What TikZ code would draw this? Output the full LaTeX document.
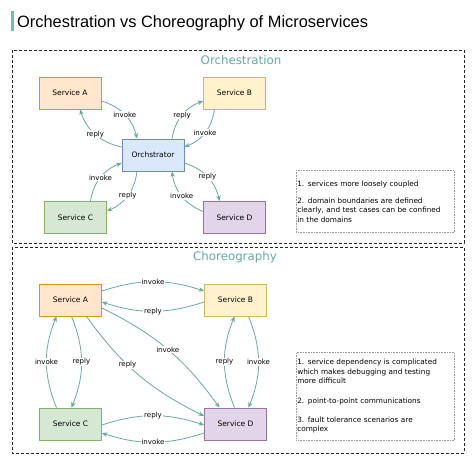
\documentclass[tikz,border=0pt]{standalone}
\usepackage{fontspec}
\setmainfont{DejaVu Sans}
\newfontfamily\titlefont{Liberation Sans}
\usetikzlibrary{arrows.meta, positioning}
\definecolor{msTeal}{HTML}{67AB9F}
\definecolor{msMint}{HTML}{6CC2A2}
\definecolor{msOrangeF}{HTML}{FFE6CC}
\definecolor{msOrangeD}{HTML}{D79B00}
\definecolor{msYellowF}{HTML}{FFF2CC}
\definecolor{msYellowD}{HTML}{D6B656}
\definecolor{msBlueF}{HTML}{DAE8FC}
\definecolor{msBlueD}{HTML}{6C8EBF}
\definecolor{msGreenF}{HTML}{D5E8D4}
\definecolor{msGreenD}{HTML}{82B366}
\definecolor{msPurpleF}{HTML}{E1D5E7}
\definecolor{msPurpleD}{HTML}{9673A6}
\definecolor{msGrey}{HTML}{9A9A9A}
\begin{document}
\begin{tikzpicture}[x=1pt, y=1pt,
    svc/.style={draw, line width=0.8pt, minimum width=62pt, minimum height=32pt,
      inner sep=0pt, font=\fontsize{7.5}{9}\selectfont},
    flow/.style={draw=msTeal, line width=0.8pt, -{Stealth[length=5.5pt,width=4.5pt]}},
    lbl/.style={fill=white, inner sep=0.8pt, font=\fontsize{7}{8}\selectfont},
    area/.style={draw=black!85, line width=0.9pt, dash pattern=on 3pt off 2pt},
    areatitle/.style={msTeal, font=\fontsize{11.8}{13}\selectfont},
    note/.style={draw=msGrey, densely dotted, line width=0.6pt, anchor=north west,
      text width=156pt, minimum height=62pt, inner sep=1pt, align=left,
      font=\fontsize{7.3}{9.5}\selectfont}]
  \fill[white] (0,0) rectangle (474,-466);
  \useasboundingbox (0,0) rectangle (474,-466);
  \fill[msMint] (11,-11) rectangle (13.5,-31);
  \node[anchor=base west, inner sep=0pt, font=\titlefont\fontsize{16.4}{18}\selectfont]
    (title) at (17,-27) {Orchestration vs Choreography of Microservices};
  \draw[area] (12,-50) rectangle (464,-243);
  \draw[area] (12,-247) rectangle (464,-453);
  \node[areatitle] (orchTitle) at (241,-60) {Orchestration};
  \node[areatitle] (choTitle) at (235,-257) {Choreography};
  % orchestration
  \node[svc, fill=msOrangeF, draw=msOrangeD] (oA) at (70,-93) {Service A};
  \node[svc, fill=msYellowF, draw=msYellowD] (oB) at (234.5,-93) {Service B};
  \node[svc, fill=msBlueF, draw=msBlueD] (orch) at (153,-155) {Orchstrator};
  \node[svc, fill=msGreenF, draw=msGreenD] (oC) at (75.5,-217.5) {Service C};
  \node[svc, fill=msPurpleF, draw=msPurpleD] (oD) at (234.5,-217.5) {Service D};
  \draw[flow] ([yshift=-8pt]oA.east) to[bend left=30] node[lbl] {invoke} ([xshift=-16pt]orch.north);
  \draw[flow] ([yshift=8pt]orch.west) to[bend left=30] node[lbl] {reply} ([xshift=10pt]oA.south);
  \draw[flow] ([xshift=19pt]orch.north) to[bend left=30] node[lbl] {reply} ([yshift=-8pt]oB.west);
  \draw[flow] ([xshift=-20pt]oB.south) to[bend left=30] node[lbl] {invoke} ([yshift=8pt]orch.east);
  \draw[flow] ([xshift=15pt]oC.north) to[bend left=30] node[lbl] {invoke} ([yshift=-8pt]orch.west);
  \draw[flow] ([xshift=-16pt]orch.south) to[bend left=30] node[lbl] {reply} ([yshift=6.5pt]oC.east);
  \draw[flow] ([yshift=-8pt]orch.east) to[bend left=30] node[lbl] {reply} ([xshift=-15pt]oD.north);
  \draw[flow] ([yshift=6pt]oD.west) to[bend left=30] node[lbl] {invoke} ([xshift=19pt]orch.south);
  \node[note] (note1) at (296,-170) {1. services more loosely coupled\\[7.5pt]
    2. domain boundaries are defined\\ clearly, and test cases can be confined\\ in the domains};
  % choreography
  \node[svc, fill=msOrangeF, draw=msOrangeD] (cA) at (70.5,-300) {Service A};
  \node[svc, fill=msYellowF, draw=msYellowD] (cB) at (235.5,-300) {Service B};
  \node[svc, fill=msGreenF, draw=msGreenD] (cC) at (70.5,-424) {Service C};
  \node[svc, fill=msPurpleF, draw=msPurpleD] (cD) at (235.5,-424) {Service D};
  \draw[flow] ([yshift=9pt]cA.east) to[bend left=18] node[lbl] {invoke} ([yshift=9pt]cB.west);
  \draw[flow] ([yshift=-2pt]cB.west) to[bend left=18] node[lbl] {reply} ([yshift=-2pt]cA.east);
  \draw[flow] ([yshift=-8pt]cA.east) to[bend left=14] node[lbl] {invoke} ([xshift=-16pt]cD.north);
  \draw[flow] ([xshift=16pt]cA.south) to[bend right=14] node[lbl, pos=0.4] {reply} ([yshift=8pt]cD.west);
  \draw[flow] ([xshift=-14pt]cC.north) to[bend left=22] node[lbl] {invoke} ([xshift=-14pt]cA.south);
  \draw[flow] ([xshift=1pt]cA.south) to[bend left=22] node[lbl] {reply} ([xshift=1pt]cC.north);
  \draw[flow] ([xshift=-1pt]cD.north) to[bend left=22] node[lbl] {reply} ([xshift=-1pt]cB.south);
  \draw[flow] ([xshift=13pt]cB.south) to[bend left=22] node[lbl] {invoke} ([xshift=13pt]cD.north);
  \draw[flow] ([yshift=-1pt]cC.east) to[bend left=18] node[lbl] {reply} ([yshift=-1pt]cD.west);
  \draw[flow] ([yshift=-9pt]cD.west) to[bend left=18] node[lbl] {invoke} ([yshift=-9pt]cC.east);
  \node[note, minimum height=88pt] (note2) at (296,-352) {1. service dependency is complicated\\
    which makes debugging and testing\\ more difficult\\[10pt]
    2. point-to-point communications\\[9.5pt]
    3. fault tolerance scenarios are\\ complex};
\end{tikzpicture}
\end{document}
